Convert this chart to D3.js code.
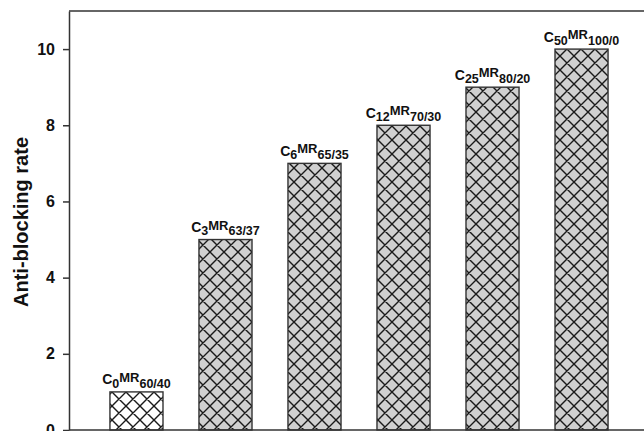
<!DOCTYPE html>
<html>
<head>
<meta charset="utf-8">
<script src="https://cdn.jsdelivr.net/npm/d3@7"></script>
<style>
  html, body { margin: 0; padding: 0; background: #fff; }
  svg { display: block; font-family: "Liberation Sans", Arial, sans-serif; }
</style>
</head>
<body>
<script>
// Anti-blocking rate per sample
const cSub   = ["0", "3", "6", "12", "25", "50"];
const mrSub  = ["60/40", "63/37", "65/35", "70/30", "80/20", "100/0"];
const values = [1, 5, 7, 8, 9, 10];
const yTicks = [0, 2, 4, 6, 8, 10];
const yTitle = "Anti-blocking rate";

const W = 644, H = 431;
const margin = { left: 69, top: 11, right: -5, bottom: 1 };

const svg = d3.select("body").append("svg")
  .attr("width", W).attr("height", H);

const defs = svg.append("defs");
function hatch(id, fill) {
  const p = defs.append("pattern")
    .attr("id", id)
    .attr("patternUnits", "userSpaceOnUse")
    .attr("width", 14).attr("height", 14);
  p.append("rect").attr("width", 14).attr("height", 14).attr("fill", fill);
  p.append("path")
    .attr("d", "M0,0L14,14M14,0L0,14M-1,13L1,15M13,-1L15,1M-1,1L1,-1M13,15L15,13")
    .attr("stroke", "#1a1a1a").attr("stroke-width", 1.4).attr("fill", "none");
}
hatch("hatchGray", "#d0d0d0");
hatch("hatchWhite", "#ffffff");

const x = d3.scaleBand()
  .domain(d3.range(values.length))
  .range([margin.left, W - margin.right])
  .paddingInner(0.404)
  .paddingOuter(0.46);

const y = d3.scaleLinear()
  .domain([0, 11])
  .range([H - margin.bottom, margin.top]);

// bars
svg.append("g").selectAll("rect")
  .data(values)
  .join("rect")
  .attr("x", (d, i) => x(i))
  .attr("y", d => y(d))
  .attr("width", x.bandwidth())
  .attr("height", d => y(0) - y(d))
  .attr("fill", (d, i) => i === 0 ? "url(#hatchWhite)" : "url(#hatchGray)")
  .attr("stroke", "#333")
  .attr("stroke-width", 1.4);

// bar labels: C_n MR_a/b
const lab = svg.append("g").selectAll("text")
  .data(values)
  .join("text")
  .attr("x", (d, i) => x(i) + x.bandwidth() / 2)
  .attr("y", d => y(d) - 7.5)
  .attr("text-anchor", "middle")
  .attr("font-weight", "bold")
  .attr("font-size", 14)
  .attr("fill", "#111");
lab.append("tspan").text("C");
lab.append("tspan").attr("dy", 3.3).attr("font-size", 12.5).text((d, i) => cSub[i]);
lab.append("tspan").attr("dy", -5.7).attr("font-size", 13).text("MR");
lab.append("tspan").attr("dy", 5.7).attr("font-size", 12.5).text((d, i) => mrSub[i]);

// y axis
const yAxis = svg.append("g")
  .attr("transform", `translate(${margin.left},0)`)
  .call(d3.axisLeft(y).tickValues(yTicks).tickSize(6).tickPadding(8).tickSizeOuter(0));
yAxis.select(".domain").attr("stroke", "#333").attr("stroke-width", 1.5);
yAxis.selectAll(".tick line").attr("stroke", "#333").attr("stroke-width", 1.5);
yAxis.selectAll(".tick text")
  .attr("font-size", 16).attr("font-weight", "bold")
  .attr("font-family", "'Liberation Sans', Arial, sans-serif")
  .attr("fill", "#111");

// frame: top and bottom lines
svg.append("line")
  .attr("x1", margin.left).attr("x2", W)
  .attr("y1", y(11)).attr("y2", y(11))
  .attr("stroke", "#333").attr("stroke-width", 1.5);
svg.append("line")
  .attr("x1", margin.left).attr("x2", W)
  .attr("y1", y(0)).attr("y2", y(0))
  .attr("stroke", "#333").attr("stroke-width", 1.5);

// y title
svg.append("text")
  .attr("transform", `translate(28,222) rotate(-90)`)
  .attr("text-anchor", "middle")
  .attr("font-size", 20).attr("font-weight", "bold")
  .attr("fill", "#111")
  .text(yTitle);
</script>
</body>
</html>
